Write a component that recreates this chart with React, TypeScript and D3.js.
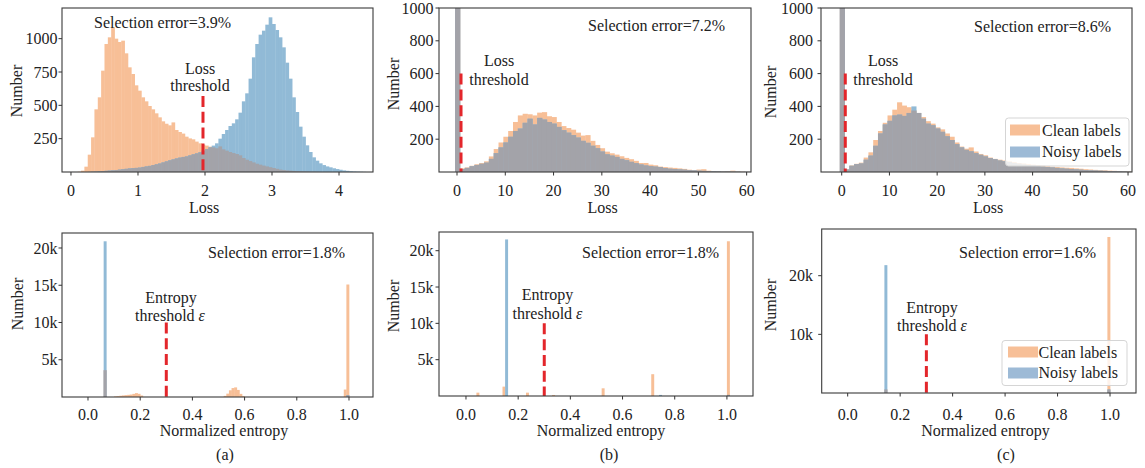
import React from "react";
import * as d3 from "d3";

const width = 1145;
const height = 468;
const FONT = '"Liberation Serif", "DejaVu Serif", "Times New Roman", serif';
const ORANGE = "#F7BF97";
const BLUE = "#91BAD6";
const GRAY = "#A3A3A9";
const RED = "#E3262B";
const INK = "#222";

// ---------- top row: loss histograms ----------
// (a) bins start at 0.10, width 0.05
const lossStartA = 0.1;
const lossWidthA = 0.05;
const lossCleanA = [
  2, 10, 40, 130, 260, 470, 560, 760, 960, 1010, 1085, 1000, 975, 985, 890, 785, 735, 650, 610, 560,
  530, 495, 470, 440, 410, 380, 362, 350, 372, 315, 300, 288, 265, 252, 245, 228, 215, 205, 198, 190,
  185, 178, 192, 170, 160, 150, 142, 135, 125, 105, 92, 82, 72, 62, 55, 48, 42, 36, 30, 24,
  18, 15, 12, 10, 8, 6, 5, 4, 3, 2, 2, 1, 0, 0, 0, 0, 0, 0, 0, 0,
  0, 0, 0, 0, 0, 0,
];
const lossNoisyA = [
  0, 0, 0, 1, 2, 3, 5, 7, 9, 11, 13, 15, 18, 21, 24, 27, 29, 31, 33, 38,
  42, 46, 52, 58, 64, 72, 80, 88, 95, 102, 108, 113, 117, 125, 133, 140, 148, 160, 172, 185,
  198, 215, 250, 285, 315, 345, 365, 395, 445, 530, 590, 700, 860, 960, 1030, 1060, 1105, 1160, 1110, 1065,
  1010, 935, 820, 700, 560, 450, 340, 265, 200, 150, 110, 85, 65, 52, 42, 35, 28, 22, 17, 12,
  9, 6, 4, 3, 2, 1,
];
const lossThresholdA = 1.97;

// (b) and (c) bins start at -0.4, width 1
const lossStartBC = -0.4;
const lossWidthBC = 1;
const lossCleanB = [
  3000, 22, 28, 38, 47, 55, 65, 95, 140, 180, 215, 250, 305, 345, 355, 352, 345, 362, 365, 340,
  335, 305, 280, 268, 258, 240, 222, 225, 190, 165, 145, 124, 114, 106, 96, 86, 78, 68, 55, 55,
  45, 41, 33, 30, 27, 25, 22, 19, 14, 12, 15, 17, 8, 6, 5, 4, 6, 8, 3, 2, 1,
];
const lossNoisyB = [
  5000, 18, 25, 35, 43, 50, 57, 80, 115, 150, 180, 215, 250, 265, 300, 325, 290, 330, 320, 305,
  295, 275, 255, 240, 225, 210, 190, 178, 160, 145, 125, 108, 100, 92, 80, 72, 62, 54, 46, 40,
  36, 33, 30, 24, 20, 18, 16, 14, 12, 10, 8, 7, 6, 5, 4, 3, 3, 2, 2, 1, 1,
];
const lossThresholdB = 0.83;

const lossCleanC = [
  3000, 17, 40, 50, 57, 88, 120, 195, 250, 300, 345, 380, 425, 405, 395, 375, 360, 335, 310, 295,
  272, 260, 235, 215, 180, 155, 142, 150, 125, 110, 102, 88, 80, 75, 70, 65, 60, 55, 52, 48,
  45, 42, 40, 35, 32, 30, 28, 26, 25, 22, 20, 17, 15, 13, 11, 10, 8, 7, 6, 5, 4,
];
const lossNoisyC = [
  5000, 15, 38, 48, 52, 75, 100, 160, 235, 290, 312, 345, 350, 342, 360, 400, 360, 325, 295, 285,
  265, 245, 218, 195, 170, 150, 135, 126, 115, 105, 95, 85, 78, 70, 65, 60, 55, 50, 45, 42,
  40, 36, 33, 30, 28, 25, 22, 20, 18, 16, 14, 12, 10, 9, 8, 7, 6, 5, 4, 3, 2,
];
const lossThresholdC = 0.75;
const lossThresholdTop = [570, 600, 600];

// ---------- bottom row: normalized entropy histograms (bin width 0.01) ----------
const entWidth = 0.01;
const entBinsA = [0.06, 0.1, 0.11, 0.12, 0.13, 0.14, 0.15, 0.16, 0.17, 0.18, 0.19, 0.2,
  0.52, 0.53, 0.54, 0.55, 0.56, 0.57, 0.58, 0.59, 0.98, 0.99];
const entCleanA = [3600, 80, 120, 170, 210, 250, 290, 330, 420, 520, 430, 200,
  150, 450, 900, 1200, 1290, 950, 420, 120, 1000, 15100];
const entNoisyA = [20900, 0, 0, 0, 0, 0, 0, 0, 0, 0, 0, 0,
  0, 0, 0, 0, 0, 0, 0, 0, 0, 250];

const entBinsB = [0.04, 0.14, 0.15, 0.23, 0.33, 0.52, 0.71, 0.74, 1.0];
const entCleanB = [460, 1290, 0, 460, 140, 1060, 3000, 0, 21300];
const entNoisyB = [0, 0, 21550, 0, 0, 0, 0, 150, 150];

const entBinsC = [0.14, 0.99];
const entCleanC = [600, 26600];
const entNoisyC = [21800, 600];

const entThreshold = 0.3;
const entThresholdTop = 10000;

const selectionErrors = ["3.9%", "7.2%", "8.6%", "1.8%", "1.8%", "1.6%"];

const lossTicksA = [0, 1, 2, 3, 4];
const lossTicksBC = [0, 10, 20, 30, 40, 50, 60];
const countTicksA = [250, 500, 750, 1000];
const countTicksBC = [200, 400, 600, 800, 1000];
const entTicks = [0, 0.2, 0.4, 0.6, 0.8, 1.0];
const entCountTicksAB = [5000, 10000, 15000, 20000];
const entCountTicksC = [10000, 20000];

const starts = (start, w, n) => d3.range(n).map((i) => start + i * w);
const fmtK = (v) => `${v / 1000}k`;
const fmtInt = (v) => String(v);
const fmt1 = d3.format(".1f");

const panels = [
  {
    id: "ta", frame: [62, 8, 373, 172], xDomain: [-0.134, 4.507], yDomain: [0, 1230],
    xTicks: lossTicksA, xFmt: fmtInt, yTicks: countTicksA, yFmt: fmtInt,
    bins: starts(lossStartA, lossWidthA, lossCleanA.length), binWidth: lossWidthA,
    clean: lossCleanA, noisy: lossNoisyA, threshold: lossThresholdA, thrTop: lossThresholdTop[0],
    xTickY: 195.5, yTickX: 57.5, xLabel: "Loss", xLabelPos: [204, 213], yLabelPos: [22, 91],
    err: selectionErrors[0], errPos: [94, 28],
    thrText: [["Loss", 200, 73.5], ["threshold", 200, 91]],
  },
  {
    id: "tb", frame: [439, 8, 751, 172], xDomain: [-3.73, 60.9], yDomain: [0, 1000],
    xTicks: lossTicksBC, xFmt: fmtInt, yTicks: countTicksBC, yFmt: fmtInt,
    bins: starts(lossStartBC, lossWidthBC, lossCleanB.length), binWidth: lossWidthBC,
    clean: lossCleanB, noisy: lossNoisyB, threshold: lossThresholdB, thrTop: lossThresholdTop[1],
    xTickY: 195.5, yTickX: 433.5, xLabel: "Loss", xLabelPos: [602.5, 213], yLabelPos: [399, 84],
    err: selectionErrors[1], errPos: [588, 31],
    thrText: [["Loss", 499, 66], ["threshold", 499, 85]],
  },
  {
    id: "tc", frame: [821, 8, 1132, 172], xDomain: [-4.34, 60.83], yDomain: [0, 1000],
    xTicks: lossTicksBC, xFmt: fmtInt, yTicks: countTicksBC, yFmt: fmtInt,
    bins: starts(lossStartBC, lossWidthBC, lossCleanC.length), binWidth: lossWidthBC,
    clean: lossCleanC, noisy: lossNoisyC, threshold: lossThresholdC, thrTop: lossThresholdTop[2],
    xTickY: 195.5, yTickX: 813, xLabel: "Loss", xLabelPos: [988, 213], yLabelPos: [776, 92],
    err: selectionErrors[2], errPos: [974, 31.5],
    thrText: [["Loss", 883, 66], ["threshold", 883, 85]],
    legend: { box: [1005.5, 118, 123.5, 48], patchX: 1010, rows: [124.5, 146.5], textY: [136, 157], textX: 1042 },
  },
  {
    id: "ba", frame: [62, 233, 373, 397], xDomain: [-0.0996, 1.092], yDomain: [0, 22013],
    xTicks: entTicks, xFmt: fmt1, yTicks: entCountTicksAB, yFmt: fmtK,
    bins: entBinsA, binWidth: entWidth,
    clean: entCleanA, noisy: entNoisyA, threshold: entThreshold, thrTop: entThresholdTop,
    xTickY: 420, yTickX: 57.5, xLabel: "Normalized entropy", xLabelPos: [224, 436], yLabelPos: [22.5, 304],
    err: selectionErrors[3], errPos: [208, 257.5], caption: "(a)", captionPos: [225, 460],
    thrText: [["Entropy", 171, 302.5], ["threshold ", 170, 321, true]],
  },
  {
    id: "bb", frame: [439, 232, 753, 396], xDomain: [-0.1034, 1.1], yDomain: [0, 22574],
    xTicks: entTicks, xFmt: fmt1, yTicks: entCountTicksAB, yFmt: fmtK,
    bins: entBinsB, binWidth: entWidth,
    clean: entCleanB, noisy: entNoisyB, threshold: entThreshold, thrTop: entThresholdTop,
    xTickY: 419.5, yTickX: 433.5, xLabel: "Normalized entropy", xLabelPos: [601, 436], yLabelPos: [399, 306],
    err: selectionErrors[4], errPos: [582, 257.5], caption: "(b)", captionPos: [609, 460],
    thrText: [["Entropy", 547.5, 300], ["threshold ", 547.5, 319, true]],
  },
  {
    id: "bc", frame: [821.7, 229, 1136, 393], xDomain: [-0.099, 1.099], yDomain: [0, 27962],
    xTicks: entTicks, xFmt: fmt1, yTicks: entCountTicksC, yFmt: fmtK,
    bins: entBinsC, binWidth: entWidth,
    clean: entCleanC, noisy: entNoisyC, threshold: entThreshold, thrTop: entThresholdTop,
    xTickY: 419.5, yTickX: 813, xLabel: "Normalized entropy", xLabelPos: [985.5, 436], yLabelPos: [776, 305],
    err: selectionErrors[5], errPos: [959, 257.5], caption: "(c)", captionPos: [1006, 460],
    thrText: [["Entropy", 932, 312.5], ["threshold ", 932, 331, true]],
    legend: { box: [1002, 340.5, 125, 45], patchX: 1008, rows: [346.5, 367.5], textY: [357.5, 377.5], textX: 1038.5 },
  },
];

const txt = { fontFamily: FONT, fontSize: "16px", fill: INK };

const Legend = ({ cfg }) => {
  const [bx, by, bw, bh] = cfg.box;
  return (
    <g>
      <rect x={bx} y={by} width={bw} height={bh} rx={3} fill="#fff" fillOpacity={0.8} stroke="#d5d5d5" />
      <rect x={cfg.patchX} y={cfg.rows[0]} width={30} height={11} fill={ORANGE} />
      <rect x={cfg.patchX} y={cfg.rows[1]} width={30} height={11} fill="#9DBAD6" />
      <text x={cfg.textX} y={cfg.textY[0]} style={txt}>Clean labels</text>
      <text x={cfg.textX} y={cfg.textY[1]} style={txt}>Noisy labels</text>
    </g>
  );
};

const Panel = ({ p }) => {
  const [L, T, R, B] = p.frame;
  const x = d3.scaleLinear().domain(p.xDomain).range([L, R]);
  const y = d3.scaleLinear().domain(p.yDomain).range([B, T]);
  const clipId = `clip-${p.id}`;
  const bar = (b, v, fill, key) =>
    v > 0 ? (
      <rect key={key} x={x(b)} y={y(v)} width={x(b + p.binWidth) - x(b) + 0.35} height={y(0) - y(v)} fill={fill} />
    ) : null;

  return (
    <g>
      <defs>
        <clipPath id={clipId}>
          <rect x={L} y={T} width={R - L} height={B - T} />
        </clipPath>
      </defs>
      <g clipPath={`url(#${clipId})`}>
        {p.bins.map((b, i) => bar(b, p.clean[i], ORANGE, `c${i}`))}
        {p.bins.map((b, i) => bar(b, p.noisy[i], BLUE, `n${i}`))}
        {p.bins.map((b, i) => bar(b, Math.min(p.clean[i], p.noisy[i]), GRAY, `g${i}`))}
      </g>
      <line
        x1={x(p.threshold)} x2={x(p.threshold)} y1={y(p.thrTop)} y2={y(0)}
        stroke={RED} strokeWidth={3} strokeDasharray="11 4.8"
      />
      <rect x={L} y={T} width={R - L} height={B - T} fill="none" stroke="#3a3a3a" strokeWidth={1.1} />
      {p.xTicks.map((t) => (
        <g key={`xt${t}`}>
          <line x1={x(t)} x2={x(t)} y1={B} y2={B + 3.5} stroke="#333" />
          <text x={x(t)} y={p.xTickY} style={txt} textAnchor="middle">{p.xFmt(t)}</text>
        </g>
      ))}
      {p.yTicks.map((t) => (
        <g key={`yt${t}`}>
          <line x1={L - 3.5} x2={L} y1={y(t)} y2={y(t)} stroke="#333" />
          <text x={p.yTickX} y={y(t)} dy="0.35em" style={txt} textAnchor="end">{p.yFmt(t)}</text>
        </g>
      ))}
      <text x={p.xLabelPos[0]} y={p.xLabelPos[1]} style={txt} textAnchor="middle">{p.xLabel}</text>
      <text
        transform={`translate(${p.yLabelPos[0]},${p.yLabelPos[1]}) rotate(-90)`}
        style={txt} textAnchor="middle"
      >
        Number
      </text>
      <text x={p.errPos[0]} y={p.errPos[1]} style={txt}>{`Selection error=${p.err}`}</text>
      {p.thrText.map(([s, tx, ty, eps]) => (
        <text key={s} x={tx} y={ty} style={txt} textAnchor="middle">
          {s}
          {eps ? <tspan style={{ fontStyle: "italic" }}>ε</tspan> : null}
        </text>
      ))}
      {p.caption ? (
        <text x={p.captionPos[0]} y={p.captionPos[1]} style={txt} textAnchor="middle">{p.caption}</text>
      ) : null}
      {p.legend ? <Legend cfg={p.legend} /> : null}
    </g>
  );
};

const App = () => (
  <svg
    width={width}
    height={height}
    style={{ position: "absolute", left: 0, top: 0, background: "#fff", fontFamily: FONT }}
  >
    <rect width={width} height={height} fill="#fff" />
    {panels.map((p) => (
      <Panel key={p.id} p={p} />
    ))}
  </svg>
);

export default App;
